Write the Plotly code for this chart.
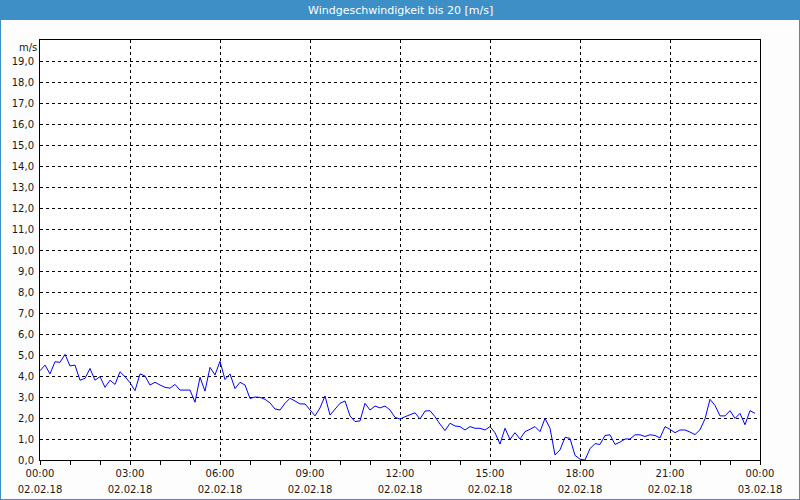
import plotly.graph_objects as go
import pandas as pd

title_text = "Windgeschwindigkeit bis 20 [m/s]"
unit_label = "m/s"
start_time = "2018-02-02 00:00"
end_time = "2018-02-03 00:00"

wind_speed = [
    4.25, 4.52, 4.10, 4.68, 4.65, 5.03, 4.48, 4.52, 3.80, 3.89,
    4.36, 3.80, 3.97, 3.46, 3.80, 3.60, 4.20, 3.97, 3.68, 3.30,
    4.10, 4.00, 3.57, 3.70, 3.57, 3.46, 3.42, 3.60, 3.33, 3.33,
    3.33, 2.75, 3.94, 3.28, 4.41, 4.05, 4.70, 3.83, 4.10, 3.40,
    3.70, 3.57, 2.93, 3.00, 2.98, 2.89, 2.72, 2.43, 2.38, 2.70,
    2.94, 2.81, 2.67, 2.67, 2.38, 2.10, 2.48, 3.05, 2.14, 2.40,
    2.70, 2.81, 2.10, 1.83, 1.86, 2.70, 2.38, 2.57, 2.48, 2.57,
    2.38, 2.03, 1.95, 2.06, 2.14, 2.25, 1.95, 2.33, 2.35, 2.06,
    1.71, 1.40, 1.75, 1.62, 1.59, 1.43, 1.59, 1.51, 1.51, 1.43,
    1.59, 1.30, 0.76, 1.51, 0.98, 1.30, 1.00, 1.35, 1.46, 1.59,
    1.35, 1.98, 1.51, 0.24, 0.48, 1.08, 1.03, 0.22, 0.04, 0.00,
    0.54, 0.78, 0.74, 1.17, 1.20, 0.74, 0.85, 1.00, 1.00, 1.20,
    1.20, 1.12, 1.20, 1.17, 1.05, 1.59, 1.46, 1.30, 1.43, 1.43,
    1.33, 1.21, 1.44, 1.96, 2.89, 2.60, 2.10, 2.10, 2.35, 1.98,
    2.22, 1.68, 2.35, 2.22,
]
times = pd.date_range(start_time, periods=len(wind_speed), freq="10min")

x_tick_times = pd.date_range(start_time, end_time, freq="3h")
time_labels = [t.strftime("%H:%M") for t in x_tick_times]
date_labels = [t.strftime("%d.%m.%y") for t in x_tick_times]

y_tick_values = list(range(0, 20))
y_tick_labels = [f"{v},0" for v in y_tick_values]

fig = go.Figure()
fig.add_trace(go.Scatter(x=times, y=wind_speed, mode="lines",
                         line=dict(color="#0000ff", width=1), xaxis="x", yaxis="y",
                         hoverinfo="skip", showlegend=False))
fig.add_trace(go.Scatter(x=[times[0], times[-1]], y=[None, None], mode="lines",
                         xaxis="x2", yaxis="y", showlegend=False, hoverinfo="skip"))

font = dict(family="DejaVu Sans", size=10, color="#1a1a1a")
grid = dict(showgrid=True, gridcolor="#000000", gridwidth=1, griddash="3px,3px")

fig.update_layout(
    width=800, height=500,
    margin=dict(l=40, r=40, t=40, b=40),
    paper_bgcolor="#fcfdfc", plot_bgcolor="#ffffff",
    separators=",.",
    showlegend=False,
    font=font,
    xaxis=dict(
        range=[start_time, end_time], type="date",
        tickvals=x_tick_times, ticktext=time_labels,
        ticks="outside", ticklen=4, tickcolor="#000000",
        minor=dict(dtick=3600000, ticks="outside", ticklen=4, tickcolor="#000000", showgrid=False),
        showline=True, linecolor="#000000", linewidth=1, mirror=True,
        zeroline=False, ticklabelstandoff=0, tickfont=font, automargin=False,
        **grid,
    ),
    xaxis2=dict(
        range=[start_time, end_time], type="date", overlaying="x", side="bottom",
        anchor="y",
        tickvals=x_tick_times, ticktext=date_labels,
        ticks="", showgrid=False, showline=False, zeroline=False,
        ticklabelstandoff=22, tickfont=font, automargin=False,
    ),
    yaxis=dict(
        range=[0, 20], tickvals=y_tick_values, ticktext=y_tick_labels,
        ticks="", showline=True, linecolor="#000000", linewidth=1, mirror=True,
        zeroline=False, ticklabelstandoff=3, tickfont=font, automargin=False,
        **grid,
    ),
)

fig.add_shape(type="rect", xref="paper", yref="paper",
              x0=-40/720, x1=1+40/720, y0=1+20/420, y1=1+40/420,
              fillcolor="#3d8fc6", line=dict(width=0), layer="below")
fig.add_shape(type="rect", xref="paper", yref="paper",
              x0=-40/720, x1=1+40/720, y0=-40/420, y1=1+40/420,
              fillcolor="rgba(0,0,0,0)", line=dict(color="#3d8fc6", width=2), layer="above")
fig.add_annotation(text=title_text, xref="paper", yref="paper", x=0.5, y=1+30/420,
                   xanchor="center", yanchor="middle", showarrow=False,
                   font=dict(family="DejaVu Sans", size=11, color="#ffffff"))
fig.add_annotation(text=unit_label, xref="paper", yref="paper", x=0, y=1,
                   xanchor="right", yanchor="top", xshift=-1, yshift=0, showarrow=False,
                   font=font)

fig.write_html("out.html")
